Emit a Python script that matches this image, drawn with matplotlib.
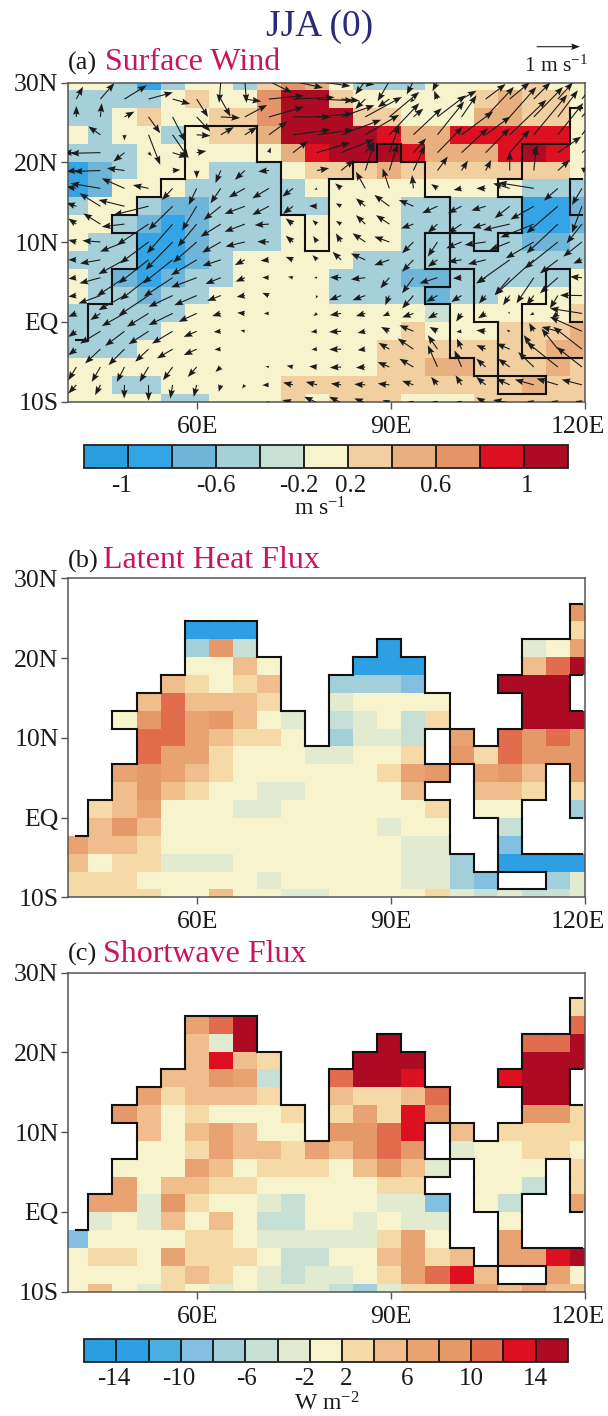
import numpy as np
import matplotlib
matplotlib.use("Agg")
import matplotlib.pyplot as plt
from matplotlib.colors import ListedColormap, BoundaryNorm
from matplotlib.cm import ScalarMappable
from matplotlib.collections import LineCollection
from matplotlib.transforms import ScaledTranslation

plt.rcParams['font.family'] = ['Liberation Serif', 'DejaVu Serif']
plt.rcParams['mathtext.fontset'] = 'custom'
plt.rcParams['mathtext.rm'] = 'Liberation Serif'
plt.rcParams['mathtext.default'] = 'regular'
plt.rcParams['axes.unicode_minus'] = False

W, H = 608, 1416
DPI = 100

# ---------------- data: colour-bin characters per grid row, north to south ----------------
WIND_LEVELS = [-1, -0.8, -0.6, -0.4, -0.2, 0.2, 0.4, 0.6, 0.8, 1]
WIND_MIDS = [-1.1, -0.9, -0.7, -0.5, -0.3, 0, 0.3, 0.5, 0.7, 0.9, 1.1]
FLUX_LEVELS = [-14, -12, -10, -8, -6, -4, -2, 2, 4, 6, 8, 10, 12, 14]
FLUX_MIDS = [-15, -13, -11, -9, -7, -5, -3, 0, 3, 5, 7, 9, 11, 13, 15]

WIND_SPEED_BINS = [
    "55313553687" "53335555655",
    "333356558AA" "65555567665",
    "335655668AA" "A6655577665",
    "535535667AA" "AA977999995",
    "33355555579" "AAA97779A95",
    "12355533356" "66766666665",
    "12555333335" "55555555333",
    "35532233333" "55533333112",
    "55321233355" "55533333112",
    "53311233355" "55533333223",
    "33311235555" "53333333333",
    "53212335555" "33322333335",
    "53323355555" "33332335555",
    "33333555555" "55554555556",
    "33335555555" "55565556667",
    "33355555555" "55666666677",
    "55555555555" "55667766676",
    "55335555566" "66666666766",
    "55553355565" "66655566666",
]

LATENT_BINS = [
    "......................",
    "......................",
    ".....................B",
    ".....111.............8",
    ".....4B5.....1.....67A",
    ".....7797...111....9CE",
    "....98789..4443...EEE.",
    "...9C9998..67777...EE.",
    "..7BCAB976.56758...EEE",
    "...CCA9887.4665.A.CBCB",
    "...CAA877766778.B8CBBB",
    "..ABA987777778AB.AB9.B",
    "..9B98776677779..998.8",
    ".89A777667777778.77..4",
    ".9B9777777777677..5...",
    "A998777777777766..3...",
    "97886667777777664.1111",
    "888777776777776643..46",
    "8888779776677778656556",
]

SHORTWAVE_BINS = [
    "......................",
    "......................",
    ".....................8",
    ".....ACE.............C",
    ".....96E.....E.....CCE",
    ".....9D98...EEE....EEE",
    "....99BA5..CEED...DEE.",
    "...A89998..9889C...EE.",
    "..B9787778.8A8DB...BB8",
    "...979A977.BBCD.9.8888",
    "...778A998A9BCB.677887",
    "..777A9788879B96.777.8",
    "..A799887777788..775.8",
    ".AA6B87765777663.75..A",
    ".676979755776766..7...",
    "37777887666668A7..A...",
    "7887A888755779A89.AADE",
    "77778987656678ACD9..A7",
    "7976876766654688AA9A99",
]

# wind components, in units of 1/130 m/s, north to south
WIND_U_RAW = [
    [0,0,0,0,0,10,-5,5,70,90,100,100,-30,-35,-20,-15,40,40,40,40,40,40],
    [20,42,67,73,53,34,29,49,105,125,110,55,-30,-35,-10,-10,45,60,60,50,45,40],
    [0,4,30,35,38,41,58,67,105,113,110,100,110,90,30,85,45,85,80,88,60,50],
    [0,-36,0,35,48,41,39,37,55,113,110,120,102,90,85,80,95,75,110,100,76,60],
    [-40,-90,-33,10,45,29,0,0,5,45,100,100,27,30,38,76,79,72,60,13,70,50],
    [-30,-80,-53,0,23,0,-16,-30,-32,0,36,39,27,25,35,31,19,17,0,8,36,20],
    [-30,-90,-68,-47,-32,-24,-31,-48,-50,-32,-8,-18,-28,-20,-4,-19,-24,-28,-50,-107,-42,-30],
    [-30,-63,-78,-105,-72,-44,-51,-61,-50,-30,-24,-16,-28,-45,-44,-46,-41,-43,-45,-70,-94,-30],
    [-24,-51,-68,-95,-77,-57,-61,-61,-43,-22,-14,-16,-28,-40,-37,-29,-41,-40,-80,-100,-94,-46],
    [-24,-54,-73,-85,-82,-71,-56,-58,-35,-22,-12,-16,-38,-45,-34,-29,-46,-63,-60,-84,-100,-56],
    [-24,-61,-78,-90,-89,-77,-55,-30,-25,-22,-14,-26,-43,-45,-34,-29,-41,-53,-100,-117,-54,-26],
    [-24,-63,-83,-85,-87,-77,-46,-28,-20,-15,-9,-34,-43,-27,-34,-54,-26,-28,-45,-52,-54,-36],
    [-24,-66,-78,-90,-72,-67,-41,-25,-20,0,-4,-36,-38,-12,-34,-34,-31,-20,-20,-22,-24,-66],
    [-24,-30,-68,-65,-72,-54,-26,-23,-15,0,-11,-34,-28,-20,-34,-29,-16,-23,-5,-12,-19,-96],
    [-24,-61,-58,-60,-62,-39,-21,-13,0,0,-19,-36,-23,-25,-42,-24,-16,-28,-10,-14,-49,-96],
    [-24,-46,-48,-40,-47,-39,-19,0,0,0,-17,-36,-23,-32,-47,-29,-14,-28,-40,-30,-49,-86],
    [-24,-26,-23,-27,-29,-27,-16,0,-10,-19,-24,-34,-28,-35,-42,-29,-21,-28,-35,-47,-94,-76],
    [-24,-16,-1,0,-7,-9,-6,-8,-20,-30,-34,-31,-33,-35,-34,-19,-18,-28,-40,-57,-64,-61],
    [0,0,0,0,0,0,0,0,-10,-32,-39,-36,-33,-20,-15,-15,-15,-28,-50,-20,-20,-20],
]
WIND_V_RAW = [
    [0,0,0,0,0,-5,-65,-65,-35,-20,-15,-10,-40,-60,-40,-30,40,40,40,40,40,40],
    [37,48,41,20,-15,-54,-52,-7,10,5,-5,-5,-30,-25,-10,25,25,45,50,50,50,50],
    [33,41,16,-49,-74,-44,-3,36,30,0,10,35,60,75,25,65,65,90,90,90,80,60],
    [0,25,-17,-90,-70,-3,23,23,40,15,15,45,60,95,80,100,70,55,105,120,95,80],
    [0,-2,-27,-10,-14,5,0,0,16,35,30,40,33,83,43,78,73,73,68,23,48,40],
    [-3,-3,7,0,2,-23,-38,-28,-3,0,7,32,82,80,75,42,30,32,57,72,32,10],
    [5,15,30,10,-35,-50,-45,-27,-30,-25,-5,15,50,60,40,13,-5,0,15,17,-37,-50],
    [10,39,19,-26,-71,-73,-41,-23,-26,-23,1,9,24,34,19,-21,-21,-13,-36,-40,-81,-80],
    [17,32,-8,-63,-88,-68,-38,-23,-3,17,12,9,27,27,-13,-26,-28,-12,-18,-40,-88,-58],
    [6,4,-29,-64,-84,-62,-32,-14,1,19,18,26,26,16,-34,-44,-19,-9,-24,-49,-80,-44],
    [0,-11,-43,-71,-71,-46,-18,-16,-3,9,14,24,19,-16,-36,-21,-6,-13,-71,-106,-41,-11],
    [-3,-17,-55,-67,-57,-29,-19,-12,1,3,1,1,-5,-32,-47,-17,-2,-17,-52,-77,-47,3],
    [-3,-24,-44,-60,-34,-29,-16,-4,8,0,-9,-14,-14,-29,-39,-19,-19,-24,-29,-29,-39,1],
    [-10,-20,-38,-40,-35,-25,-8,2,0,0,-8,-5,-8,-8,-12,-15,-25,-15,5,-5,-15,15],
    [-17,-37,-44,-39,-37,-17,-2,3,0,0,-2,-2,-5,13,18,13,-2,3,3,25,13,43],
    [-18,-43,-48,-38,-28,-18,-1,0,0,0,-1,-1,-3,19,32,42,32,12,17,42,62,67],
    [-40,-45,-45,-45,-40,-30,-15,0,2,4,2,-2,-2,15,25,65,50,25,25,45,75,60],
    [-26,-31,-41,-48,-41,-36,-21,-11,-1,7,9,4,2,4,12,24,29,24,19,16,19,16],
    [0,0,0,0,0,0,0,0,3,8,18,18,13,8,5,5,5,16,8,5,5,5],
]
RAW_PER_MS = 130.0

WIND_COLORS = ['#2a9fe0', '#33a4e6', '#6fb5d8', '#a5cfd9', '#c8e0d6', '#f7f4cd',
               '#f2cfa0', '#e9b07f', '#e49468', '#dc1021', '#ad0a24']
FLUX_COLORS = ['#2a9fe0', '#2e9fe3', '#4aaee0', '#82bfe0', '#a3cfdb', '#c6e0d6', '#e2ead0',
               '#f7f4cd', '#f5daa8', '#f0bd8c', '#e9a372', '#e69968', '#e26c4e', '#dc1021', '#ad0a24']

LON_LABELS = ['60E', '90E', '120E']
LON_TICKS = [60, 90, 120]
LAT_LABELS = ['10S', 'EQ', '10N', '20N', '30N']
LAT_TICKS = [-10, 0, 10, 20, 30]

# grid geometry
LON = 41.24 + 3.728 * np.arange(22)
LAT = -10.13 + 2.24 * np.arange(19)
DLON, DLAT = 3.728, 2.24


def decode(rows, mids):
    out = np.full((len(rows), len(rows[0])), np.nan)
    for i, row in enumerate(rows):
        for j, ch in enumerate(row):
            if ch != '.':
                out[i, j] = mids[int(ch, 16)]
    return out[::-1]


def box(left, top, right, bottom):
    return [left / W, 1 - bottom / H, (right - left) / W, (bottom - top) / H]


def coast_segments(mask):
    """mask True = coloured cell; boundary between coloured and blank cells."""
    segs = []
    ny, nx = mask.shape
    for i in range(ny):
        for j in range(nx):
            x0 = LON[j] if j == 0 else LON[j] - DLON / 2
            x1 = LON[j] if j == nx - 1 else LON[j] + DLON / 2
            y0, y1 = LAT[i] - DLAT / 2, LAT[i] + DLAT / 2
            if i + 1 < ny and mask[i, j] != mask[i + 1, j]:
                segs.append([(x0, y1), (x1, y1)])
            if j + 1 < nx and mask[i, j] != mask[i, j + 1]:
                segs.append([(x1, y0), (x1, y1)])
    return segs


def style_axes(ax):
    ax.set_xlim(40, 120)
    ax.set_ylim(-10, 30)
    ax.set_xticks(LON_TICKS, LON_LABELS)
    ax.set_yticks(LAT_TICKS, LAT_LABELS)
    ax.tick_params(labelsize=18.5, length=5, width=1, color='#555555', labelcolor='#1a1a1a')
    ax.tick_params(axis='y', pad=2)
    ax.tick_params(axis='x', pad=5)
    last = ax.get_xticklabels()[-1]
    last.set_transform(last.get_transform() + ScaledTranslation(-7 / DPI, 0, fig.dpi_scale_trans))
    for s in ax.spines.values():
        s.set_color('#555555')
        s.set_linewidth(1.1)


def panel(axbox, data, colors, levels, mask):
    ax = fig.add_axes(box(*axbox))
    cmap = ListedColormap(colors)
    norm = BoundaryNorm(levels, ncolors=len(colors), extend='both')
    ax.pcolormesh(LON, LAT, np.ma.masked_invalid(data), cmap=cmap, norm=norm, shading='nearest')
    ax.add_collection(LineCollection(coast_segments(mask), colors='#111111', linewidths=1.5,
                                     capstyle='projecting', zorder=5))
    style_axes(ax)
    return ax


def colorbar(axbox, colors, levels, ticks, labels, shifts, pad, label, label_xy):
    cax = fig.add_axes(box(*axbox))
    cmap = ListedColormap(colors)
    norm = BoundaryNorm(levels, ncolors=len(colors), extend='both')
    frac = 1.0 / (len(levels) - 1)
    cb = fig.colorbar(ScalarMappable(norm=norm, cmap=cmap), cax=cax, orientation='horizontal',
                      extend='both', extendrect=True, extendfrac=frac, spacing='uniform',
                      drawedges=True)
    cb.dividers.set_color('#111111')
    cb.dividers.set_linewidth(1.3)
    cb.outline.set_edgecolor('#222222')
    cb.outline.set_linewidth(1.3)
    cb.set_ticks(ticks)
    cb.set_ticklabels(labels)
    cax.tick_params(length=0, labelsize=18, pad=pad, labelcolor='#1a1a1a')
    cax.minorticks_off()
    for t, s in zip(cax.get_xticklabels(), shifts):
        t.set_transform(t.get_transform() + ScaledTranslation(s / DPI, 0, fig.dpi_scale_trans))
    fig.text(label_xy[0] / W, 1 - label_xy[1] / H, label, fontsize=17, ha='center', va='center',
             color='#1a1a1a')


def panel_title(x_tag, x_name, y, tag, name):
    fig.text(x_tag / W, 1 - y / H, tag, fontsize=19, ha='left', va='center', color='#1a1a1a')
    fig.text(x_name / W, 1 - y / H, name, fontsize=23, ha='left', va='center', color='#c9155f')


fig = plt.figure(figsize=(W / DPI, H / DPI), dpi=DPI, facecolor='white')

wind = decode(WIND_SPEED_BINS, WIND_MIDS)
latent = decode(LATENT_BINS, FLUX_MIDS)
shortwave = decode(SHORTWAVE_BINS, FLUX_MIDS)
land_mask = ~np.isnan(latent)

# panel (a)
ax_a = panel((68.3, 82.7, 585, 401.7), wind, WIND_COLORS, WIND_LEVELS, land_mask)
U = np.array(WIND_U_RAW, float)[::-1] / RAW_PER_MS
V = np.array(WIND_V_RAW, float)[::-1] / RAW_PER_MS
U[(U == 0) & (V == 0)] = np.nan
LX, LY = np.meshgrid(LON, LAT)
q = ax_a.quiver(LX, LY, U, V, angles='uv', scale=1 / 0.433, scale_units='inches', pivot='tail',
                width=1.1 / DPI, units='inches', headwidth=6, headlength=8, headaxislength=7,
                minlength=0, color='#1c1c1c', zorder=6)
ax_a.quiverkey(q, 558.3 / W, 1 - 46.7 / H, 1, '', coordinates='figure', labelpos='S')
fig.text(556 / W, 1 - 66.5 / H, r'1 m s$^{-1}$', fontsize=15.5, ha='center', va='center', color='#1a1a1a')

# panel (b), (c)
panel((68.3, 578.3, 585, 897.3), latent, FLUX_COLORS, FLUX_LEVELS, land_mask)
panel((68.3, 972.7, 585, 1291.7), shortwave, FLUX_COLORS, FLUX_LEVELS, land_mask)

# colour bars
colorbar((83.5, 445, 568, 468), WIND_COLORS, WIND_LEVELS, [-1, -0.6, -0.2, 0.2, 0.6, 1],
         ['-1', '-0.6', '-0.2', '0.2', '0.6', '1'], [-6, 0, -5, 3, 0, 3], 5, r'm s$^{-1}$', (320, 509))
colorbar((84, 1339, 568, 1361.5), FLUX_COLORS, FLUX_LEVELS, [-14, -10, -6, -2, 2, 6, 10, 14],
         ['-14', '-10', '-6', '-2', '2', '6', '10', '14'], [-3, -2, 1, -5, 4, 0, 0, 0], 5,
         r'W m$^{-2}$', (327, 1404))

# titles
fig.text(320 / W, 1 - 27 / H, 'JJA (0)', fontsize=27, ha='center', va='center', color='#2b2a78')
panel_title(68, 105, 63, '(a)', 'Surface Wind')
panel_title(68, 103, 561, '(b)', 'Latent Heat Flux')
panel_title(68, 103, 954, '(c)', 'Shortwave Flux')

fig.savefig('out.png', dpi=DPI, facecolor='white')
